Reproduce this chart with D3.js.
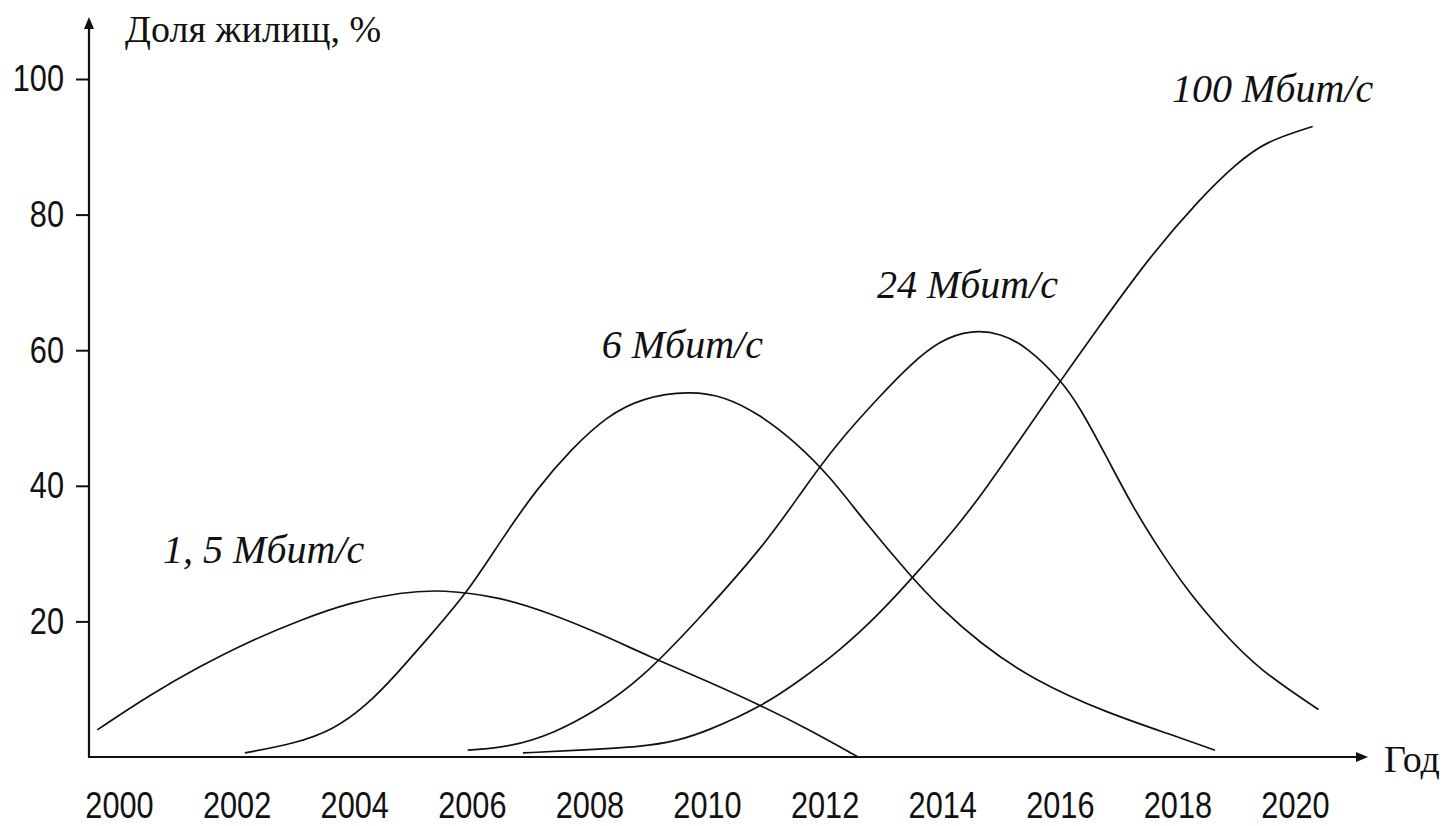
<!DOCTYPE html>
<html>
<head>
<meta charset="utf-8">
<script src="https://cdn.jsdelivr.net/npm/d3@7"></script>
<style>
  body { margin: 0; background: #fff; }
  .tick text { font-family: "Liberation Sans", Arial, sans-serif; font-size: 37px; fill: #111; }
  .tick line { stroke: #111; stroke-width: 2; }
  .curve { fill: none; stroke: #111; stroke-width: 1.7; }
  .axisline { stroke: #111; stroke-width: 2.2; }
  .lbl { font-family: "Liberation Serif", "Times New Roman", serif; fill: #111; }
</style>
</head>
<body>
<svg id="chart" width="1451" height="826"></svg>
<script>
// values: [year, share %]
const speed15 = [[1999.63, 4], [2000.53, 9.2], [2001.38, 13.4], [2002.2, 17], [2003.08, 20.2],
  [2003.93, 22.8], [2004.8, 24.3], [2005.5, 24.7], [2006.48, 23.6], [2007.3, 21.3], [2008.18, 18.2],
  [2009.0, 14.9], [2010.0, 11.2], [2010.94, 7.5], [2011.7, 4.2], [2012.57, 0]];
const speed6 = [[2002.14, 0.6], [2003.0, 2], [2003.64, 4], [2004.2, 7.5], [2004.73, 12.3], [2005.3, 18],
  [2005.92, 24.2], [2006.5, 32], [2007.1, 39.5], [2007.7, 45.5], [2008.3, 50.3], [2008.9, 53],
  [2009.7, 54], [2010.3, 53.2], [2010.9, 50.5], [2011.5, 46.5], [2012.1, 41.3], [2012.7, 34.5],
  [2013.49, 26.4], [2013.96, 22.1], [2014.64, 16.8], [2015.54, 11.4], [2016.8, 6.5], [2017.93, 3.2],
  [2018.64, 1]];
const speed24 = [[2005.93, 1], [2006.67, 1.5], [2007.4, 3.5], [2008.13, 6.9], [2008.86, 11.3], [2009.88, 20.5],
  [2011.0, 31.5], [2011.6, 39], [2012.2, 46.2], [2012.99, 53.7], [2013.45, 57.8], [2013.96, 61.5],
  [2014.5, 63], [2015.0, 62.5], [2015.44, 60.5], [2016.02, 55.6], [2016.34, 51.6], [2016.8, 44.2],
  [2017.24, 36.9], [2017.7, 30.5], [2018.2, 24.2], [2018.78, 18.3], [2019.4, 12.8], [2020.4, 7]];
const speed100 = [[2006.87, 0.6], [2007.79, 1], [2008.91, 1.5], [2009.5, 2.4], [2010.0, 3.8], [2010.94, 7.5],
  [2011.58, 11.3], [2012.26, 15.7], [2012.94, 21.2], [2013.49, 26.4], [2014.25, 33.9], [2014.76, 39.8],
  [2015.32, 46.8], [2016.02, 55.6], [2016.63, 63], [2017.5, 73.5], [2018.4, 82.5], [2019.0, 87.5],
  [2019.5, 90.8], [2020.3, 93]];

const seriesNames = ["1, 5 Мбит/с", "6 Мбит/с", "24 Мбит/с", "100 Мбит/с"];
// where each name sits, in data units [year, share]
const labelAt = [[2000.75, 28.6], [2008.21, 58.8], [2012.89, 67.7], [2017.91, 96.6]];

const xTicks = d3.range(2000, 2021, 2);
const yTicks = [20, 40, 60, 80, 100];

const svg = d3.select("#chart");

const x = d3.scaleLinear().domain([2000, 2020]).range([119, 1295]);
const y = d3.scaleLinear().domain([0, 100]).range([757, 79]);
const x0 = 89;
const squeeze = 0.83; // the tick font in the picture is a narrow one

// axes
const yAxis = d3.axisLeft(y).tickValues(yTicks).tickSize(13).tickPadding(12);
svg.append("g")
    .attr("transform", "translate(" + x0 + ",0)")
    .call(yAxis)
    .call(g => g.select(".domain").remove())
    .call(g => g.selectAll("text")
        .attr("x", -25 / squeeze)
        .attr("transform", "scale(" + squeeze + ",1)"));

const xAxis = d3.axisBottom(x).tickValues(xTicks).tickFormat(d3.format("d")).tickSize(0);
svg.append("g")
    .attr("transform", "translate(0," + y(0) + ")")
    .call(xAxis)
    .call(g => g.select(".domain").remove())
    .call(g => g.selectAll("text")
        .attr("y", 61).attr("dy", null)
        .attr("transform", "scale(" + squeeze + ",1)"));

svg.append("line").attr("class", "axisline")
    .attr("x1", x0).attr("x2", x0).attr("y1", y(0) + 1).attr("y2", 26);
svg.append("line").attr("class", "axisline")
    .attr("x1", x0 - 1).attr("x2", 1358).attr("y1", y(0)).attr("y2", y(0));

// arrow heads
svg.append("path").attr("fill", "#111")
    .attr("d", `M${x0},17 L${x0 - 5},29 L${x0 + 5},29 Z`);
svg.append("path").attr("fill", "#111")
    .attr("d", `M1368,${y(0)} L1356,${y(0) - 5} L1356,${y(0) + 5} Z`);

svg.append("text").attr("class", "lbl")
    .attr("x", 125).attr("y", 42)
    .style("font-size", "38px")
    .text("Доля жилищ, %");
svg.append("text").attr("class", "lbl")
    .attr("x", 1384).attr("y", 772)
    .style("font-size", "38px")
    .text("Год");

// curves
const line = d3.line()
    .x(d => x(d[0]))
    .y(d => y(d[1]))
    .curve(d3.curveBasis);

[speed15, speed6, speed24, speed100].forEach(s => {
  svg.append("path").attr("class", "curve").attr("d", line(s));
});

svg.selectAll(".name")
    .data(seriesNames)
    .enter()
    .append("text")
    .attr("class", "lbl name")
    .attr("x", (d, i) => x(labelAt[i][0]))
    .attr("y", (d, i) => y(labelAt[i][1]))
    .style("font-size", "40px")
    .style("font-style", "italic")
    .text(d => d);
</script>
</body>
</html>
